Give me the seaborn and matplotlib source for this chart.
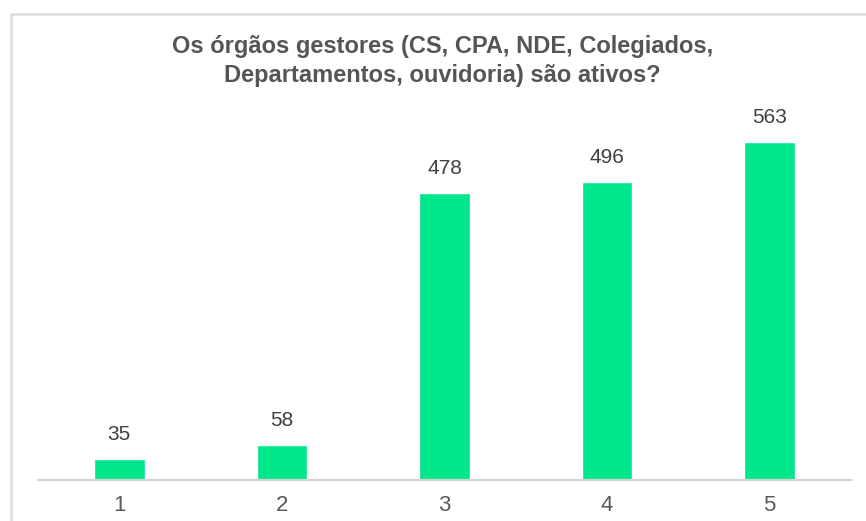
import matplotlib
matplotlib.use("Agg")
import matplotlib.pyplot as plt
from matplotlib.lines import Line2D
import seaborn as sns
import pandas as pd

# dados do gráfico
categorias = ["1", "2", "3", "4", "5"]
respostas = [35, 58, 478, 496, 563]
titulo = "Os órgãos gestores (CS, CPA, NDE, Colegiados,\nDepartamentos, ouvidoria) são ativos?"

sns.set_style("white")
plt.rcParams["font.family"] = ["Liberation Sans", "DejaVu Sans"]

df = pd.DataFrame({"categoria": categorias, "valor": respostas})

fig = plt.figure(figsize=(8.66, 5.21), dpi=100)
ax = fig.add_axes([38 / 866, 41 / 521, 813 / 866, 360 / 521])

sns.barplot(data=df, x="categoria", y="valor", color="#00e68a",
            width=0.31, saturation=1, ax=ax)

ax.set_ylim(0, 600)
ax.set_xlim(-0.5, 4.5)
ax.set_xlabel("")
ax.set_ylabel("")
ax.set_yticks([])
for s in ["top", "right", "left"]:
    ax.spines[s].set_visible(False)
ax.spines["bottom"].set_color("#d4d4d4")
ax.spines["bottom"].set_linewidth(1.6)
ax.tick_params(axis="x", length=0, pad=11, labelsize=16, labelcolor="#595959")

for cont in ax.containers:
    ax.bar_label(cont, labels=[str(v) for v in respostas], padding=11,
                 fontsize=15, color="#404040")

fig.text(0.511, 0.933, titulo, ha="center", va="top", fontsize=17,
         fontweight="bold", color="#555555", linespacing=1.32)

# moldura do gráfico (borda cinza clara)
fig.add_artist(Line2D([11 / 866, 11 / 866], [0, 1 - 14 / 521],
                      transform=fig.transFigure, color="#dcdcdc", lw=1.8))
fig.add_artist(Line2D([11 / 866, 1], [1 - 14 / 521, 1 - 14 / 521],
                      transform=fig.transFigure, color="#dcdcdc", lw=1.8))

fig.savefig("out.png", dpi=100)
